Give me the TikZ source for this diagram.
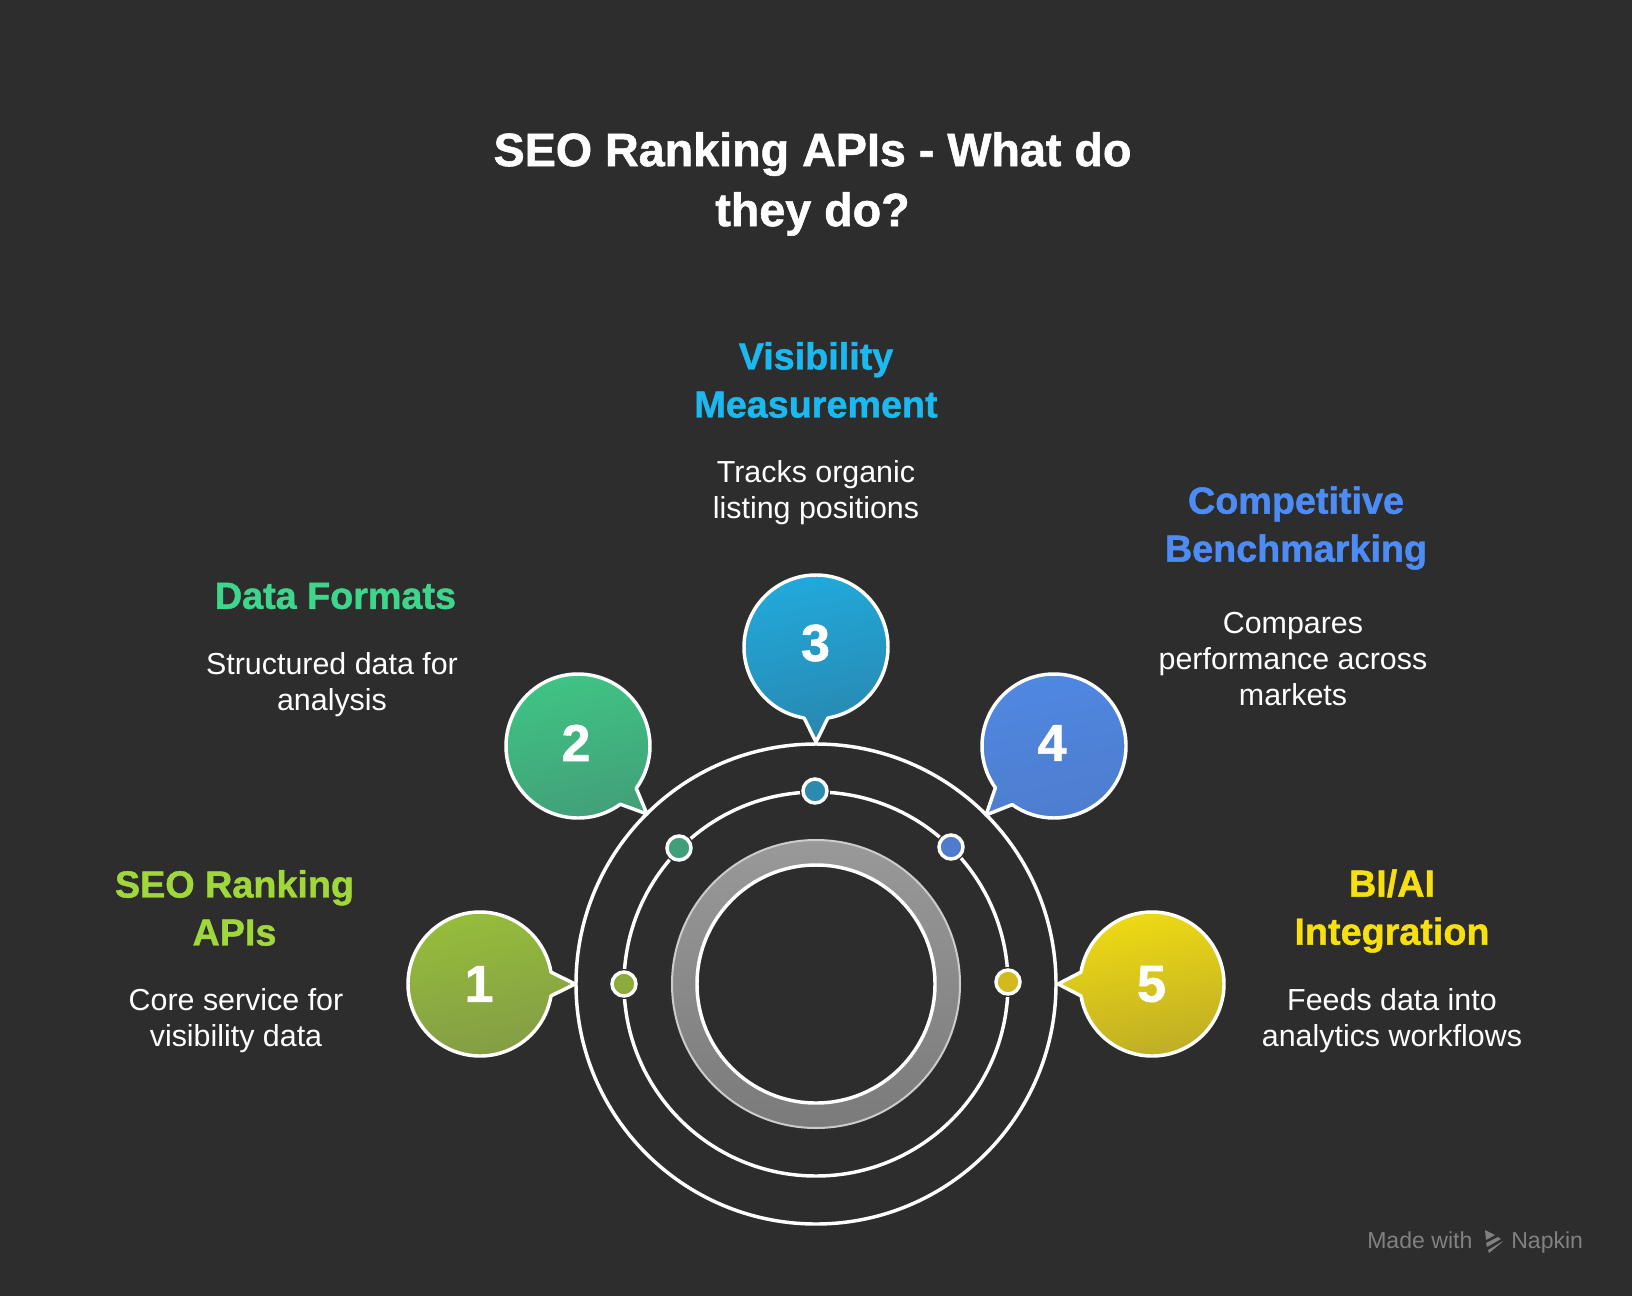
\documentclass[tikz,border=0pt]{standalone}
\usepackage{fontspec}
\setmainfont{Liberation Sans}[BoldFeatures={FakeBold=1.2}]
\usepackage{xcolor}
\definecolor{bgdark}{RGB}{45,45,45}
\definecolor{limehead}{RGB}{160,216,60}
\definecolor{greenhead}{RGB}{61,214,140}
\definecolor{bluehead}{RGB}{28,184,240}
\definecolor{royalhead}{RGB}{78,140,245}
\definecolor{yellowhead}{RGB}{248,224,16}
\tikzset{
  bubble/.style={draw=white,line width=2.6pt,line join=round,shading angle=12},
  orbit/.style={draw=white,line width=2.6pt},
  dotmark/.style={draw=white,line width=2.6pt},
  titletext/.style={align=center,inner sep=0pt,text=white,font=\fontsize{35}{45}\selectfont\bfseries},
  headtext/.style={align=center,inner sep=0pt,font=\fontsize{28.3}{36}\selectfont\bfseries},
  bodytext/.style={align=center,inner sep=0pt,text=white,font=\fontsize{22.8}{27}\selectfont},
  numtext/.style={inner sep=0pt,text=white,font=\fontsize{39}{39}\selectfont\bfseries},
  marktext/.style={inner sep=0pt,text=white!40!bgdark,font=\fontsize{17.3}{20}\selectfont}
}
\begin{document}
\begin{tikzpicture}[x=0.75pt,y=0.75pt,yscale=-1,xscale=1]
\fill [bgdark] (0,0) rectangle (1632,1296);
\useasboundingbox (0,0) rectangle (1632,1296);

%Orbits
\draw [orbit] (816,984) circle [radius=240];
\draw [orbit] (816,984) circle [radius=192];
%Gray ring
\shade [top color=white!60!black,bottom color=white!48!black,even odd rule] (816,984) circle [radius=144] (816,984) circle [radius=119];
\draw [draw=white!80!black,line width=1.5pt] (816,984) circle [radius=144];
\draw [orbit] (816,984) circle [radius=119];

%Bubbles
\draw [top color={rgb,255:red,150;green,190;blue,58},bottom color={rgb,255:red,131;green,155;blue,70},bubble] (480,984) ++(9.5:72) arc [start angle=9.5,end angle=350.5,radius=72] -- (575,984) -- cycle;
\draw [top color={rgb,255:red,63;green,198;blue,133},bottom color={rgb,255:red,66;green,158;blue,120},bubble] (578,746) ++(54:72) arc [start angle=54,end angle=396,radius=72] -- (647,814) -- cycle;
\draw [top color={rgb,255:red,33;green,170;blue,220},bottom color={rgb,255:red,40;green,135;blue,175},bubble] (816,647) ++(99.5:72) arc [start angle=99.5,end angle=440.5,radius=72] -- (816,742) -- cycle;
\draw [top color={rgb,255:red,79;green,136;blue,227},bottom color={rgb,255:red,78;green,125;blue,205},bubble] (1054,746) ++(144.5:72) arc [start angle=144.5,end angle=485.5,radius=72] -- (986,815) -- cycle;
\draw [top color={rgb,255:red,240;green,220;blue,18},bottom color={rgb,255:red,190;green,172;blue,38},bubble] (1152,984) ++(189.5:72) arc [start angle=189.5,end angle=530.5,radius=72] -- (1058,984) -- cycle;

%Small dots
\fill [bgdark] (624,984) circle [radius=15];
\draw [dotmark,fill={rgb,255:red,141;green,171;blue,60}] (624,984) circle [radius=12];
\fill [bgdark] (679,848) circle [radius=15];
\draw [dotmark,fill={rgb,255:red,65;green,159;blue,120}] (679,848) circle [radius=12];
\fill [bgdark] (815,791) circle [radius=15];
\draw [dotmark,fill={rgb,255:red,42;green,138;blue,175}] (815,791) circle [radius=12];
\fill [bgdark] (951,847) circle [radius=15];
\draw [dotmark,fill={rgb,255:red,78;green,123;blue,204}] (951,847) circle [radius=12];
\fill [bgdark] (1008,982) circle [radius=15];
\draw [dotmark,fill={rgb,255:red,210;green,186;blue,30}] (1008,982) circle [radius=12];

%Numbers
\node [numtext] (numa) at (479,984) {1};
\node [numtext] (numb) at (576,743) {2};
\node [numtext] (numc) at (815.5,643) {3};
\node [numtext] (numd) at (1052,743) {4};
\node [numtext] (nume) at (1151.5,984) {5};

%Title
\node [titletext] (title) at (812.5,184) {SEO Ranking APIs - What do\\they do?};

%Labels
\node [headtext,text=limehead] (heada) at (234.5,908) {SEO Ranking\\APIs};
\node [bodytext] (bodya) at (236,1021) {Core service for\\visibility data};
\node [headtext,text=greenhead] (headb) at (335.5,596) {Data Formats};
\node [bodytext] (bodyb) at (332,685) {Structured data for\\analysis};
\node [headtext,text=bluehead] (headc) at (816,380) {Visibility\\Measurement};
\node [bodytext] (bodyc) at (816,493) {Tracks organic\\listing positions};
\node [headtext,text=royalhead] (headd) at (1296,528) {Competitive\\Benchmarking};
\node [bodytext] (bodyd) at (1293,659) {Compares\\performance across\\markets};
\node [headtext,text=yellowhead] (heade) at (1392,911) {BI/AI\\Integration};
\node [bodytext] (bodye) at (1392,1021) {Feeds data into\\analytics workflows};

%Watermark
\node [marktext,anchor=base west] (madewith) at (1367,1248) {Made with};
\node [marktext,anchor=base west] (napkin) at (1511,1248) {Napkin};
\fill [white!40!bgdark] (1485,1230) -- (1495,1235) -- (1486,1240) -- cycle (1486,1243) -- (1498,1237) -- (1501,1239) -- (1487,1247) -- cycle (1488,1250) -- (1503,1241) -- (1500,1244) -- (1489,1253) -- cycle;

\end{tikzpicture}
\end{document}
